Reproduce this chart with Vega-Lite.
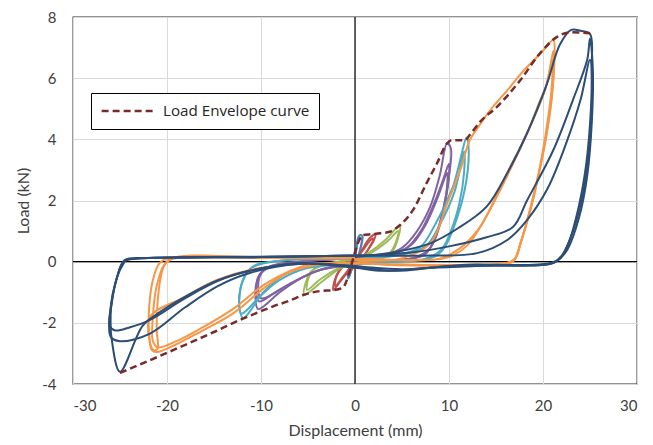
{
"$schema": "https://vega.github.io/schema/vega-lite/v6.json",
"width": 564, "height": 367,
"autosize": {"type": "none"},
"padding": {"left": 73, "top": 17, "right": 16, "bottom": 61},
"background": "white",
"config": {"view": {"stroke": "#262626", "strokeWidth": 1.3}, "font": "Lato"},
"datasets": {
"loops": [
{"g":"G1","p":"1a","x":0,"y":0},{"g":"G1","p":"1a","x":0.15,"y":0.45},{"g":"G1","p":"1a","x":0.35,"y":0.8},{"g":"G1","p":"1a","x":0.6,"y":0.88},{"g":"G1","p":"1a","x":0.8,"y":0.82},{"g":"G1","p":"1a","x":0.6,"y":0.45},{"g":"G1","p":"1a","x":0.3,"y":0.12},{"g":"G1","p":"1a","x":0,"y":-0.05},{"g":"G1","p":"1a","x":-0.35,"y":-0.25},{"g":"G1","p":"1a","x":-0.7,"y":-0.55},{"g":"G1","p":"1a","x":-0.75,"y":-0.4},{"g":"G1","p":"1a","x":-0.5,"y":-0.12},{"g":"G1","p":"1a","x":-0.2,"y":0},{"g":"G1","p":"1a","x":0,"y":0.05},
{"g":"G1","p":"1b","x":0,"y":0},{"g":"G1","p":"1b","x":0.2,"y":0.5},{"g":"G1","p":"1b","x":0.45,"y":0.78},{"g":"G1","p":"1b","x":0.7,"y":0.75},{"g":"G1","p":"1b","x":0.55,"y":0.4},{"g":"G1","p":"1b","x":0.25,"y":0.1},{"g":"G1","p":"1b","x":0,"y":0},{"g":"G1","p":"1b","x":-0.4,"y":-0.3},{"g":"G1","p":"1b","x":-0.65,"y":-0.5},{"g":"G1","p":"1b","x":-0.55,"y":-0.2},{"g":"G1","p":"1b","x":-0.2,"y":0},{"g":"G1","p":"1b","x":0,"y":0},
{"g":"G2","p":"2a","x":0,"y":-0.05},{"g":"G2","p":"2a","x":0.7,"y":0.35},{"g":"G2","p":"2a","x":1.5,"y":0.75},{"g":"G2","p":"2a","x":2.2,"y":0.9},{"g":"G2","p":"2a","x":2.0,"y":0.7},{"g":"G2","p":"2a","x":1.4,"y":0.4},{"g":"G2","p":"2a","x":0.7,"y":0.1},{"g":"G2","p":"2a","x":0,"y":-0.15},{"g":"G2","p":"2a","x":-0.9,"y":-0.4},{"g":"G2","p":"2a","x":-1.7,"y":-0.7},{"g":"G2","p":"2a","x":-2.3,"y":-0.93},{"g":"G2","p":"2a","x":-2.2,"y":-0.65},{"g":"G2","p":"2a","x":-1.7,"y":-0.3},{"g":"G2","p":"2a","x":-0.9,"y":-0.05},{"g":"G2","p":"2a","x":0,"y":0.05},
{"g":"G2","p":"2b","x":0,"y":0},{"g":"G2","p":"2b","x":0.9,"y":0.4},{"g":"G2","p":"2b","x":1.7,"y":0.72},{"g":"G2","p":"2b","x":2.0,"y":0.75},{"g":"G2","p":"2b","x":1.6,"y":0.5},{"g":"G2","p":"2b","x":1.0,"y":0.2},{"g":"G2","p":"2b","x":0.3,"y":0},{"g":"G2","p":"2b","x":-0.5,"y":-0.2},{"g":"G2","p":"2b","x":-1.3,"y":-0.5},{"g":"G2","p":"2b","x":-2.1,"y":-0.8},{"g":"G2","p":"2b","x":-2.0,"y":-0.5},{"g":"G2","p":"2b","x":-1.4,"y":-0.2},{"g":"G2","p":"2b","x":-0.6,"y":0},{"g":"G2","p":"2b","x":0,"y":0.05},
{"g":"G3","p":"3a","x":0,"y":0.05},{"g":"G3","p":"3a","x":1.5,"y":0.3},{"g":"G3","p":"3a","x":3.2,"y":0.7},{"g":"G3","p":"3a","x":4.8,"y":1.2},{"g":"G3","p":"3a","x":4.6,"y":0.8},{"g":"G3","p":"3a","x":4.1,"y":0.4},{"g":"G3","p":"3a","x":3.2,"y":0.15},{"g":"G3","p":"3a","x":1.5,"y":0.03},{"g":"G3","p":"3a","x":0,"y":-0.05},{"g":"G3","p":"3a","x":-1.5,"y":-0.2},{"g":"G3","p":"3a","x":-3.5,"y":-0.65},{"g":"G3","p":"3a","x":-5.4,"y":-1.08},{"g":"G3","p":"3a","x":-5.2,"y":-0.65},{"g":"G3","p":"3a","x":-4.6,"y":-0.3},{"g":"G3","p":"3a","x":-3,"y":-0.08},{"g":"G3","p":"3a","x":0,"y":0.08},
{"g":"G3","p":"3b","x":0,"y":0.05},{"g":"G3","p":"3b","x":1.8,"y":0.3},{"g":"G3","p":"3b","x":3.4,"y":0.65},{"g":"G3","p":"3b","x":4.6,"y":1.0},{"g":"G3","p":"3b","x":4.3,"y":0.6},{"g":"G3","p":"3b","x":3.6,"y":0.25},{"g":"G3","p":"3b","x":2,"y":0.05},{"g":"G3","p":"3b","x":0,"y":-0.05},{"g":"G3","p":"3b","x":-2,"y":-0.25},{"g":"G3","p":"3b","x":-3.8,"y":-0.6},{"g":"G3","p":"3b","x":-5.1,"y":-0.92},{"g":"G3","p":"3b","x":-4.9,"y":-0.5},{"g":"G3","p":"3b","x":-4.2,"y":-0.2},{"g":"G3","p":"3b","x":-2.5,"y":-0.05},{"g":"G3","p":"3b","x":0,"y":0.08},
{"g":"G4","p":"4a","x":0,"y":0.08},{"g":"G4","p":"4a","x":3,"y":0.2},{"g":"G4","p":"4a","x":5,"y":0.45},{"g":"G4","p":"4a","x":6.6,"y":1.0},{"g":"G4","p":"4a","x":8,"y":1.8},{"g":"G4","p":"4a","x":9,"y":2.8},{"g":"G4","p":"4a","x":9.8,"y":3.87},{"g":"G4","p":"4a","x":10.2,"y":3.7},{"g":"G4","p":"4a","x":10,"y":2.8},{"g":"G4","p":"4a","x":9.3,"y":1.6},{"g":"G4","p":"4a","x":8.4,"y":0.7},{"g":"G4","p":"4a","x":7.5,"y":0.25},{"g":"G4","p":"4a","x":5,"y":0.05},{"g":"G4","p":"4a","x":0,"y":-0.08},{"g":"G4","p":"4a","x":-3,"y":-0.2},{"g":"G4","p":"4a","x":-5.5,"y":-0.5},{"g":"G4","p":"4a","x":-8,"y":-1.0},{"g":"G4","p":"4a","x":-10.3,"y":-1.55},{"g":"G4","p":"4a","x":-10.6,"y":-1.1},{"g":"G4","p":"4a","x":-10.4,"y":-0.6},{"g":"G4","p":"4a","x":-9.8,"y":-0.3},{"g":"G4","p":"4a","x":-8,"y":-0.1},{"g":"G4","p":"4a","x":-4,"y":0.05},{"g":"G4","p":"4a","x":0,"y":0.1},
{"g":"G4","p":"4b","x":0,"y":0.1},{"g":"G4","p":"4b","x":3.5,"y":0.2},{"g":"G4","p":"4b","x":5.5,"y":0.45},{"g":"G4","p":"4b","x":7,"y":1.0},{"g":"G4","p":"4b","x":8.4,"y":1.9},{"g":"G4","p":"4b","x":9.4,"y":2.7},{"g":"G4","p":"4b","x":10,"y":3.2},{"g":"G4","p":"4b","x":9.9,"y":2.5},{"g":"G4","p":"4b","x":9.2,"y":1.4},{"g":"G4","p":"4b","x":8.3,"y":0.6},{"g":"G4","p":"4b","x":7.2,"y":0.2},{"g":"G4","p":"4b","x":4,"y":0.03},{"g":"G4","p":"4b","x":0,"y":-0.08},{"g":"G4","p":"4b","x":-3.5,"y":-0.25},{"g":"G4","p":"4b","x":-6.5,"y":-0.65},{"g":"G4","p":"4b","x":-8.5,"y":-1.0},{"g":"G4","p":"4b","x":-10.2,"y":-1.3},{"g":"G4","p":"4b","x":-10.5,"y":-0.9},{"g":"G4","p":"4b","x":-10.2,"y":-0.45},{"g":"G4","p":"4b","x":-9.3,"y":-0.2},{"g":"G4","p":"4b","x":-6,"y":0},{"g":"G4","p":"4b","x":0,"y":0.1},
{"g":"G4","p":"4c","x":0,"y":0.1},{"g":"G4","p":"4c","x":4,"y":0.25},{"g":"G4","p":"4c","x":6,"y":0.55},{"g":"G4","p":"4c","x":7.5,"y":1.2},{"g":"G4","p":"4c","x":8.8,"y":2.1},{"g":"G4","p":"4c","x":9.8,"y":2.9},{"g":"G4","p":"4c","x":9.7,"y":2.2},{"g":"G4","p":"4c","x":9,"y":1.2},{"g":"G4","p":"4c","x":8,"y":0.45},{"g":"G4","p":"4c","x":6.5,"y":0.15},{"g":"G4","p":"4c","x":3,"y":0.02},{"g":"G4","p":"4c","x":0,"y":-0.1},{"g":"G4","p":"4c","x":-4,"y":-0.3},{"g":"G4","p":"4c","x":-7,"y":-0.75},{"g":"G4","p":"4c","x":-10,"y":-1.2},{"g":"G4","p":"4c","x":-10.3,"y":-0.8},{"g":"G4","p":"4c","x":-10,"y":-0.4},{"g":"G4","p":"4c","x":-9,"y":-0.15},{"g":"G4","p":"4c","x":-5,"y":0.02},{"g":"G4","p":"4c","x":0,"y":0.1},
{"g":"G5","p":"5a","x":0,"y":0.1},{"g":"G5","p":"5a","x":4,"y":0.2},{"g":"G5","p":"5a","x":6.9,"y":0.47},{"g":"G5","p":"5a","x":8.5,"y":1.2},{"g":"G5","p":"5a","x":10.4,"y":2.44},{"g":"G5","p":"5a","x":11.9,"y":4.07},{"g":"G5","p":"5a","x":12.1,"y":3.5},{"g":"G5","p":"5a","x":11.7,"y":2.4},{"g":"G5","p":"5a","x":10.6,"y":1.2},{"g":"G5","p":"5a","x":9.6,"y":0.5},{"g":"G5","p":"5a","x":8.7,"y":0.2},{"g":"G5","p":"5a","x":7,"y":0.05},{"g":"G5","p":"5a","x":0,"y":-0.05},{"g":"G5","p":"5a","x":-4,"y":-0.15},{"g":"G5","p":"5a","x":-7.2,"y":-0.37},{"g":"G5","p":"5a","x":-9.6,"y":-0.95},{"g":"G5","p":"5a","x":-11.9,"y":-1.84},{"g":"G5","p":"5a","x":-12.3,"y":-1.5},{"g":"G5","p":"5a","x":-12.2,"y":-0.9},{"g":"G5","p":"5a","x":-11.6,"y":-0.4},{"g":"G5","p":"5a","x":-10.5,"y":-0.1},{"g":"G5","p":"5a","x":-7,"y":0.05},{"g":"G5","p":"5a","x":0,"y":0.1},
{"g":"G5","p":"5b","x":0,"y":0.1},{"g":"G5","p":"5b","x":4.5,"y":0.2},{"g":"G5","p":"5b","x":7.5,"y":0.5},{"g":"G5","p":"5b","x":9,"y":1.2},{"g":"G5","p":"5b","x":10.6,"y":2.3},{"g":"G5","p":"5b","x":11.6,"y":3.6},{"g":"G5","p":"5b","x":11.6,"y":2.9},{"g":"G5","p":"5b","x":11.1,"y":1.9},{"g":"G5","p":"5b","x":10.2,"y":1.0},{"g":"G5","p":"5b","x":9.2,"y":0.4},{"g":"G5","p":"5b","x":7.5,"y":0.1},{"g":"G5","p":"5b","x":0,"y":-0.05},{"g":"G5","p":"5b","x":-5,"y":-0.2},{"g":"G5","p":"5b","x":-8,"y":-0.6},{"g":"G5","p":"5b","x":-10,"y":-1.1},{"g":"G5","p":"5b","x":-12.1,"y":-1.7},{"g":"G5","p":"5b","x":-12.3,"y":-1.2},{"g":"G5","p":"5b","x":-11.9,"y":-0.6},{"g":"G5","p":"5b","x":-11,"y":-0.2},{"g":"G5","p":"5b","x":-8,"y":0.03},{"g":"G5","p":"5b","x":0,"y":0.1},
{"g":"G6","p":"6a","x":0,"y":0.05},{"g":"G6","p":"6a","x":4.8,"y":0.1},{"g":"G6","p":"6a","x":8,"y":0.6},{"g":"G6","p":"6a","x":9.8,"y":1.9},{"g":"G6","p":"6a","x":11.2,"y":3.0},{"g":"G6","p":"6a","x":12.2,"y":3.97},{"g":"G6","p":"6a","x":13,"y":4.35},{"g":"G6","p":"6a","x":14.5,"y":5.0},{"g":"G6","p":"6a","x":16.2,"y":5.6},{"g":"G6","p":"6a","x":17.8,"y":6.2},{"g":"G6","p":"6a","x":19.4,"y":6.7},{"g":"G6","p":"6a","x":20.3,"y":7.0},{"g":"G6","p":"6a","x":21.1,"y":7.25},{"g":"G6","p":"6a","x":21.2,"y":6.5},{"g":"G6","p":"6a","x":20.9,"y":5.3},{"g":"G6","p":"6a","x":20.3,"y":4.0},{"g":"G6","p":"6a","x":19.5,"y":2.8},{"g":"G6","p":"6a","x":18.5,"y":1.5},{"g":"G6","p":"6a","x":17.6,"y":0.6},{"g":"G6","p":"6a","x":17,"y":0.1},{"g":"G6","p":"6a","x":16,"y":-0.05},{"g":"G6","p":"6a","x":10,"y":-0.12},{"g":"G6","p":"6a","x":4,"y":-0.1},{"g":"G6","p":"6a","x":0,"y":-0.05},{"g":"G6","p":"6a","x":-4,"y":-0.1},{"g":"G6","p":"6a","x":-7,"y":-0.35},{"g":"G6","p":"6a","x":-9.4,"y":-0.8},{"g":"G6","p":"6a","x":-13,"y":-1.7},{"g":"G6","p":"6a","x":-16.5,"y":-2.3},{"g":"G6","p":"6a","x":-19,"y":-2.7},{"g":"G6","p":"6a","x":-21,"y":-2.95},{"g":"G6","p":"6a","x":-21.6,"y":-2.9},{"g":"G6","p":"6a","x":-21.9,"y":-2.4},{"g":"G6","p":"6a","x":-21.9,"y":-1.5},{"g":"G6","p":"6a","x":-21.5,"y":-0.6},{"g":"G6","p":"6a","x":-20.8,"y":-0.05},{"g":"G6","p":"6a","x":-20,"y":0.1},{"g":"G6","p":"6a","x":-18,"y":0.12},{"g":"G6","p":"6a","x":-10,"y":0.15},{"g":"G6","p":"6a","x":0,"y":0.12},
{"g":"G6","p":"6b","x":0,"y":0.1},{"g":"G6","p":"6b","x":6,"y":0.05},{"g":"G6","p":"6b","x":9,"y":0.1},{"g":"G6","p":"6b","x":11,"y":0.4},{"g":"G6","p":"6b","x":13.3,"y":1.13},{"g":"G6","p":"6b","x":14.8,"y":2.0},{"g":"G6","p":"6b","x":16.2,"y":2.9},{"g":"G6","p":"6b","x":18.3,"y":4.2},{"g":"G6","p":"6b","x":19.6,"y":5.2},{"g":"G6","p":"6b","x":20.4,"y":5.8},{"g":"G6","p":"6b","x":21.1,"y":6.9},{"g":"G6","p":"6b","x":21.1,"y":6.0},{"g":"G6","p":"6b","x":20.7,"y":4.8},{"g":"G6","p":"6b","x":19.9,"y":3.4},{"g":"G6","p":"6b","x":19,"y":2.1},{"g":"G6","p":"6b","x":18,"y":1.0},{"g":"G6","p":"6b","x":17.3,"y":0.3},{"g":"G6","p":"6b","x":16.8,"y":0},{"g":"G6","p":"6b","x":12,"y":-0.1},{"g":"G6","p":"6b","x":5,"y":-0.12},{"g":"G6","p":"6b","x":0,"y":-0.05},{"g":"G6","p":"6b","x":-5,"y":-0.1},{"g":"G6","p":"6b","x":-9.4,"y":-0.7},{"g":"G6","p":"6b","x":-13,"y":-1.55},{"g":"G6","p":"6b","x":-16.5,"y":-2.2},{"g":"G6","p":"6b","x":-19,"y":-2.6},{"g":"G6","p":"6b","x":-21,"y":-2.8},{"g":"G6","p":"6b","x":-21.5,"y":-2.6},{"g":"G6","p":"6b","x":-21.5,"y":-1.8},{"g":"G6","p":"6b","x":-21.1,"y":-0.8},{"g":"G6","p":"6b","x":-20.3,"y":-0.1},{"g":"G6","p":"6b","x":-19.5,"y":0.08},{"g":"G6","p":"6b","x":-10,"y":0.12},{"g":"G6","p":"6b","x":0,"y":0.1},
{"g":"G6","p":"6c","x":0,"y":0.1},{"g":"G6","p":"6c","x":7,"y":0.05},{"g":"G6","p":"6c","x":10,"y":0.15},{"g":"G6","p":"6c","x":12,"y":0.55},{"g":"G6","p":"6c","x":14,"y":1.5},{"g":"G6","p":"6c","x":16.5,"y":3.0},{"g":"G6","p":"6c","x":18.6,"y":4.4},{"g":"G6","p":"6c","x":20.2,"y":5.6},{"g":"G6","p":"6c","x":21,"y":6.6},{"g":"G6","p":"6c","x":20.9,"y":5.6},{"g":"G6","p":"6c","x":20.4,"y":4.4},{"g":"G6","p":"6c","x":19.6,"y":3.0},{"g":"G6","p":"6c","x":18.6,"y":1.7},{"g":"G6","p":"6c","x":17.6,"y":0.6},{"g":"G6","p":"6c","x":16.9,"y":0.05},{"g":"G6","p":"6c","x":12,"y":-0.12},{"g":"G6","p":"6c","x":0,"y":-0.05},{"g":"G6","p":"6c","x":-6,"y":-0.08},{"g":"G6","p":"6c","x":-11.2,"y":-0.27},{"g":"G6","p":"6c","x":-14.7,"y":-0.6},{"g":"G6","p":"6c","x":-18.1,"y":-1.15},{"g":"G6","p":"6c","x":-21.8,"y":-1.8},{"g":"G6","p":"6c","x":-21.9,"y":-2.5},{"g":"G6","p":"6c","x":-21.4,"y":-2.9},{"g":"G6","p":"6c","x":-21.0,"y":-2.85},{"g":"G6","p":"6c","x":-21.1,"y":-2.2},{"g":"G6","p":"6c","x":-20.9,"y":-1.0},{"g":"G6","p":"6c","x":-20.4,"y":-0.2},{"g":"G6","p":"6c","x":-19.6,"y":0.1},{"g":"G6","p":"6c","x":-10,"y":0.15},{"g":"G6","p":"6c","x":0,"y":0.15},
{"g":"G7","p":"7a","x":0,"y":0.15},{"g":"G7","p":"7a","x":4,"y":0.3},{"g":"G7","p":"7a","x":8,"y":0.6},{"g":"G7","p":"7a","x":11,"y":1.1},{"g":"G7","p":"7a","x":14,"y":1.8},{"g":"G7","p":"7a","x":16.2,"y":2.9},{"g":"G7","p":"7a","x":18.3,"y":4.2},{"g":"G7","p":"7a","x":20.4,"y":5.8},{"g":"G7","p":"7a","x":21.8,"y":7.1},{"g":"G7","p":"7a","x":23,"y":7.58},{"g":"G7","p":"7a","x":24,"y":7.55},{"g":"G7","p":"7a","x":25,"y":7.45},{"g":"G7","p":"7a","x":25.2,"y":6.5},{"g":"G7","p":"7a","x":25.1,"y":5},{"g":"G7","p":"7a","x":24.6,"y":3.2},{"g":"G7","p":"7a","x":23.8,"y":1.8},{"g":"G7","p":"7a","x":22.7,"y":0.6},{"g":"G7","p":"7a","x":21.8,"y":0.1},{"g":"G7","p":"7a","x":20.7,"y":-0.05},{"g":"G7","p":"7a","x":15,"y":-0.12},{"g":"G7","p":"7a","x":8,"y":-0.2},{"g":"G7","p":"7a","x":3,"y":-0.3},{"g":"G7","p":"7a","x":0,"y":-0.2},{"g":"G7","p":"7a","x":-6,"y":-0.05},{"g":"G7","p":"7a","x":-11.2,"y":-0.3},{"g":"G7","p":"7a","x":-14.5,"y":-0.6},{"g":"G7","p":"7a","x":-18.1,"y":-1.15},{"g":"G7","p":"7a","x":-21,"y":-1.7},{"g":"G7","p":"7a","x":-22.6,"y":-2.1},{"g":"G7","p":"7a","x":-25,"y":-3.6},{"g":"G7","p":"7a","x":-25.9,"y":-2.5},{"g":"G7","p":"7a","x":-26,"y":-2.0},{"g":"G7","p":"7a","x":-25.9,"y":-1.35},{"g":"G7","p":"7a","x":-25.3,"y":-0.5},{"g":"G7","p":"7a","x":-24.7,"y":-0.1},{"g":"G7","p":"7a","x":-24.3,"y":0.05},{"g":"G7","p":"7a","x":-22,"y":0.12},{"g":"G7","p":"7a","x":-15,"y":0.15},{"g":"G7","p":"7a","x":-5,"y":0.18},{"g":"G7","p":"7a","x":0,"y":0.2},
{"g":"G7","p":"7b","x":0,"y":0.2},{"g":"G7","p":"7b","x":6,"y":0.3},{"g":"G7","p":"7b","x":10,"y":0.5},{"g":"G7","p":"7b","x":14,"y":0.8},{"g":"G7","p":"7b","x":16.8,"y":1.13},{"g":"G7","p":"7b","x":18.3,"y":2.0},{"g":"G7","p":"7b","x":21.1,"y":3.65},{"g":"G7","p":"7b","x":23.2,"y":5.3},{"g":"G7","p":"7b","x":24.7,"y":6.6},{"g":"G7","p":"7b","x":25,"y":7.3},{"g":"G7","p":"7b","x":25.3,"y":6.3},{"g":"G7","p":"7b","x":25.2,"y":4.6},{"g":"G7","p":"7b","x":24.7,"y":2.8},{"g":"G7","p":"7b","x":23.8,"y":1.4},{"g":"G7","p":"7b","x":22.6,"y":0.4},{"g":"G7","p":"7b","x":21.4,"y":0},{"g":"G7","p":"7b","x":20,"y":-0.1},{"g":"G7","p":"7b","x":10,"y":-0.15},{"g":"G7","p":"7b","x":4,"y":-0.3},{"g":"G7","p":"7b","x":0,"y":-0.15},{"g":"G7","p":"7b","x":-6,"y":-0.08},{"g":"G7","p":"7b","x":-11.2,"y":-0.37},{"g":"G7","p":"7b","x":-14.6,"y":-0.8},{"g":"G7","p":"7b","x":-18.1,"y":-1.5},{"g":"G7","p":"7b","x":-21.8,"y":-2.35},{"g":"G7","p":"7b","x":-25,"y":-2.6},{"g":"G7","p":"7b","x":-26,"y":-2.45},{"g":"G7","p":"7b","x":-26,"y":-1.5},{"g":"G7","p":"7b","x":-25.4,"y":-0.6},{"g":"G7","p":"7b","x":-24.6,"y":0},{"g":"G7","p":"7b","x":-23,"y":0.1},{"g":"G7","p":"7b","x":-10,"y":0.15},{"g":"G7","p":"7b","x":0,"y":0.2},
{"g":"G7","p":"7c","x":0,"y":0.2},{"g":"G7","p":"7c","x":8,"y":0.2},{"g":"G7","p":"7c","x":13,"y":0.28},{"g":"G7","p":"7c","x":16.2,"y":0.71},{"g":"G7","p":"7c","x":18.3,"y":1.36},{"g":"G7","p":"7c","x":20.5,"y":2.4},{"g":"G7","p":"7c","x":22.5,"y":3.9},{"g":"G7","p":"7c","x":24,"y":5.3},{"g":"G7","p":"7c","x":25,"y":6.6},{"g":"G7","p":"7c","x":25.2,"y":5.5},{"g":"G7","p":"7c","x":25,"y":4.0},{"g":"G7","p":"7c","x":24.3,"y":2.3},{"g":"G7","p":"7c","x":23.2,"y":1.0},{"g":"G7","p":"7c","x":22,"y":0.2},{"g":"G7","p":"7c","x":21,"y":-0.05},{"g":"G7","p":"7c","x":12,"y":-0.1},{"g":"G7","p":"7c","x":5,"y":-0.25},{"g":"G7","p":"7c","x":0,"y":-0.15},{"g":"G7","p":"7c","x":-6,"y":-0.05},{"g":"G7","p":"7c","x":-11.2,"y":-0.3},{"g":"G7","p":"7c","x":-14.5,"y":-0.62},{"g":"G7","p":"7c","x":-18.1,"y":-1.2},{"g":"G7","p":"7c","x":-21.8,"y":-1.9},{"g":"G7","p":"7c","x":-24,"y":-2.15},{"g":"G7","p":"7c","x":-25.5,"y":-2.25},{"g":"G7","p":"7c","x":-26.1,"y":-2.1},{"g":"G7","p":"7c","x":-25.9,"y":-1.4},{"g":"G7","p":"7c","x":-25.3,"y":-0.5},{"g":"G7","p":"7c","x":-24.5,"y":0.05},{"g":"G7","p":"7c","x":-22,"y":0.12},{"g":"G7","p":"7c","x":-10,"y":0.15},{"g":"G7","p":"7c","x":0,"y":0.2}
],
"env": [
{"n":"Load Envelope curve","x":-25,"y":-3.64},{"n":"Load Envelope curve","x":-20,"y":-2.98},{"n":"Load Envelope curve","x":-15,"y":-2.3},{"n":"Load Envelope curve","x":-12.2,"y":-1.9},{"n":"Load Envelope curve","x":-10,"y":-1.62},{"n":"Load Envelope curve","x":-8.7,"y":-1.46},{"n":"Load Envelope curve","x":-7,"y":-1.28},{"n":"Load Envelope curve","x":-5.5,"y":-1.09},{"n":"Load Envelope curve","x":-3.7,"y":-0.96},{"n":"Load Envelope curve","x":-2.3,"y":-0.93},{"n":"Load Envelope curve","x":-1.3,"y":-0.85},{"n":"Load Envelope curve","x":-0.7,"y":-0.45},{"n":"Load Envelope curve","x":-0.2,"y":0.1},{"n":"Load Envelope curve","x":0.3,"y":0.6},{"n":"Load Envelope curve","x":0.85,"y":0.87},{"n":"Load Envelope curve","x":1.8,"y":0.9},{"n":"Load Envelope curve","x":2.7,"y":0.93},{"n":"Load Envelope curve","x":3.7,"y":0.98},{"n":"Load Envelope curve","x":4.8,"y":1.2},{"n":"Load Envelope curve","x":6.2,"y":1.7},{"n":"Load Envelope curve","x":7.6,"y":2.56},{"n":"Load Envelope curve","x":8.7,"y":3.2},{"n":"Load Envelope curve","x":9.8,"y":3.87},{"n":"Load Envelope curve","x":10.3,"y":3.97},{"n":"Load Envelope curve","x":11.7,"y":3.97},{"n":"Load Envelope curve","x":12.2,"y":4.14},{"n":"Load Envelope curve","x":13.3,"y":4.57},{"n":"Load Envelope curve","x":15.1,"y":5.06},{"n":"Load Envelope curve","x":17.6,"y":5.94},{"n":"Load Envelope curve","x":19.7,"y":6.82},{"n":"Load Envelope curve","x":21.5,"y":7.35},{"n":"Load Envelope curve","x":22.9,"y":7.5},{"n":"Load Envelope curve","x":25,"y":7.47}
]
},
"resolve": {"scale": {"color": "independent"}},
"layer": [
{
"data": {"values": [{"x": 0}]},
"mark": {"type": "rule", "color": "#000000", "strokeWidth": 1.2},
"encoding": {
"x": {"field": "x", "type": "quantitative", "scale": {"domain": [-30, 30], "nice": false, "zero": false},
"axis": {"values": [-30,-20,-10,0,10,20,30], "labelExpr": "toString(datum.value)", "grid": true, "gridColor": "#d9d9d9", "gridWidth": 1, "domain": false, "ticks": false, "labelFontSize": 15, "labelColor": "#404040", "labelPadding": 14, "title": "Displacement (mm)", "titleFontSize": 16, "titleFontWeight": "normal", "titleColor": "#404040", "titlePadding": 9}}
}
},
{
"data": {"values": [{"y": 0}]},
"mark": {"type": "rule", "color": "#000000", "strokeWidth": 1.2},
"encoding": {
"y": {"field": "y", "type": "quantitative", "scale": {"domain": [-4, 8], "nice": false, "zero": false},
"axis": {"values": [-4,-2,0,2,4,6,8], "labelExpr": "toString(datum.value)", "grid": true, "gridColor": "#d9d9d9", "gridWidth": 1, "domain": false, "ticks": false, "labelFontSize": 15, "labelColor": "#404040", "labelPadding": 17, "title": "Load (kN)", "titleFontSize": 16, "titleFontWeight": "normal", "titleColor": "#404040", "titlePadding": 10}}
}
},
{
"data": {"name": "loops"},
"mark": {"type": "line", "strokeWidth": 2, "strokeJoin": "round", "interpolate": "catmull-rom"},
"encoding": {
"x": {"field": "x", "type": "quantitative"},
"y": {"field": "y", "type": "quantitative"},
"detail": {"field": "p", "type": "nominal"},
"order": {"value": null},
"color": {"field": "g", "type": "nominal", "legend": null,
"scale": {"domain": ["G1","G2","G3","G4","G5","G6","G7"], "range": ["#4F81BD","#C0504D","#9BBB59","#8064A2","#4BACC6","#F79646","#2C4D75"]}}
}
},
{
"data": {"name": "env"},
"mark": {"type": "line", "strokeWidth": 2.5, "strokeDash": [7, 4], "interpolate": "monotone"},
"encoding": {
"x": {"field": "x", "type": "quantitative"},
"y": {"field": "y", "type": "quantitative"},
"order": {"value": null},
"color": {"field": "n", "type": "nominal", "scale": {"range": ["#772C2A"]},
"legend": {"title": null, "orient": "none", "legendX": 18, "legendY": 76, "symbolType": "stroke", "symbolDash": [7, 4], "symbolStrokeWidth": 2.5, "symbolSize": 3000, "clipHeight": 18, "strokeColor": "#000000", "fillColor": "white", "padding": 9, "labelFont": "Open Sans", "labelFontSize": 15.2, "labelColor": "#262626", "labelOffset": 5}}
}
}
]
}
